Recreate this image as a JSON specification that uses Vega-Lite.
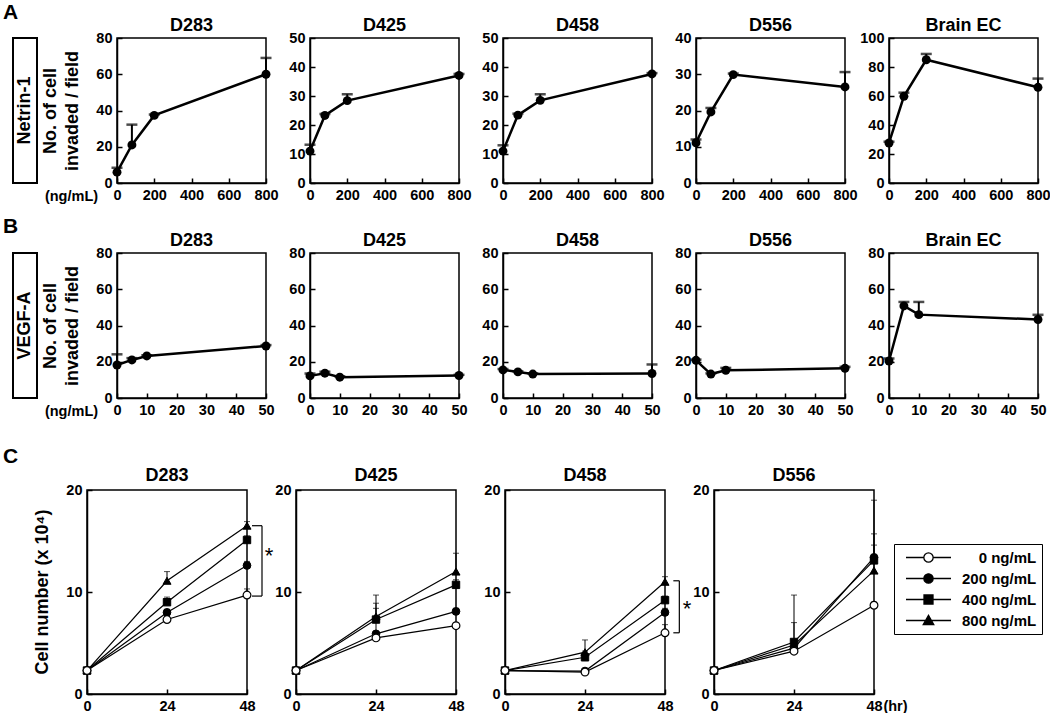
{
"$schema": "https://vega.github.io/schema/vega-lite/v6.json",
"padding": {"left": 3, "top": 2, "right": 5, "bottom": 2},
"datasets": {
"ab": [
{"r":"A","p":"D283","x":0,"y":6,"u":8.4},{"r":"A","p":"D283","x":80,"y":21,"u":32.2},{"r":"A","p":"D283","x":200,"y":37.3,"u":37.8},{"r":"A","p":"D283","x":800,"y":60,"u":69},
{"r":"A","p":"D425","x":0,"y":11,"u":13.2},{"r":"A","p":"D425","x":80,"y":23.3,"u":23.8},{"r":"A","p":"D425","x":200,"y":28.4,"u":30.6},{"r":"A","p":"D425","x":800,"y":37.1,"u":37.6},
{"r":"A","p":"D458","x":0,"y":11,"u":13},{"r":"A","p":"D458","x":80,"y":23.4,"u":23.9},{"r":"A","p":"D458","x":200,"y":28.5,"u":30.6},{"r":"A","p":"D458","x":800,"y":37.6,"u":37.9},
{"r":"A","p":"D556","x":0,"y":11.1,"u":12},{"r":"A","p":"D556","x":80,"y":19.6,"u":20.7},{"r":"A","p":"D556","x":200,"y":29.9,"u":30.2},{"r":"A","p":"D556","x":800,"y":26.5,"u":30.6},
{"r":"A","p":"Brain EC","x":0,"y":27.6,"u":28.5},{"r":"A","p":"Brain EC","x":80,"y":59.8,"u":62.3},{"r":"A","p":"Brain EC","x":200,"y":85,"u":89},{"r":"A","p":"Brain EC","x":800,"y":66,"u":72},
{"r":"B","p":"D283","x":0,"y":18.2,"u":24.1},{"r":"B","p":"D283","x":5,"y":21,"u":22},{"r":"B","p":"D283","x":10,"y":23.2,"u":23.6},{"r":"B","p":"D283","x":50,"y":28.7,"u":29.2},
{"r":"B","p":"D425","x":0,"y":12.2,"u":13.5},{"r":"B","p":"D425","x":5,"y":13.7,"u":14.5},{"r":"B","p":"D425","x":10,"y":11.5,"u":12},{"r":"B","p":"D425","x":50,"y":12.4,"u":12.8},
{"r":"B","p":"D458","x":0,"y":15.5,"u":16},{"r":"B","p":"D458","x":5,"y":14.4,"u":14.8},{"r":"B","p":"D458","x":10,"y":13.2,"u":13.6},{"r":"B","p":"D458","x":50,"y":13.5,"u":18.5},
{"r":"B","p":"D556","x":0,"y":20.8,"u":21.2},{"r":"B","p":"D556","x":5,"y":13.2,"u":13.6},{"r":"B","p":"D556","x":10,"y":15.3,"u":16.6},{"r":"B","p":"D556","x":50,"y":16.4,"u":17.2},
{"r":"B","p":"Brain EC","x":0,"y":20.4,"u":21.8},{"r":"B","p":"Brain EC","x":5,"y":50.8,"u":53},{"r":"B","p":"Brain EC","x":10,"y":46,"u":53},{"r":"B","p":"Brain EC","x":50,"y":43.3,"u":45.9}
],
"c": [
{"p":"D283","dose":"0 ng/mL","t":0,"y":2.3},{"p":"D283","dose":"0 ng/mL","t":24,"y":7.3,"u":7.6},{"p":"D283","dose":"0 ng/mL","t":48,"y":9.7,"u":10.3},
{"p":"D283","dose":"200 ng/mL","t":0,"y":2.3},{"p":"D283","dose":"200 ng/mL","t":24,"y":8.0,"u":8.3},{"p":"D283","dose":"200 ng/mL","t":48,"y":12.6,"u":13.0},
{"p":"D283","dose":"400 ng/mL","t":0,"y":2.3},{"p":"D283","dose":"400 ng/mL","t":24,"y":9.0,"u":9.5},{"p":"D283","dose":"400 ng/mL","t":48,"y":15.1,"u":15.5},
{"p":"D283","dose":"800 ng/mL","t":0,"y":2.3},{"p":"D283","dose":"800 ng/mL","t":24,"y":11.1,"u":12.0},{"p":"D283","dose":"800 ng/mL","t":48,"y":16.5,"u":16.9},
{"p":"D425","dose":"0 ng/mL","t":0,"y":2.3},{"p":"D425","dose":"0 ng/mL","t":24,"y":5.5,"u":5.8},{"p":"D425","dose":"0 ng/mL","t":48,"y":6.7,"u":6.9},
{"p":"D425","dose":"200 ng/mL","t":0,"y":2.3},{"p":"D425","dose":"200 ng/mL","t":24,"y":5.9,"u":8.4},{"p":"D425","dose":"200 ng/mL","t":48,"y":8.1,"u":8.4},
{"p":"D425","dose":"400 ng/mL","t":0,"y":2.3},{"p":"D425","dose":"400 ng/mL","t":24,"y":7.3,"u":8.9},{"p":"D425","dose":"400 ng/mL","t":48,"y":10.7,"u":11.2},
{"p":"D425","dose":"800 ng/mL","t":0,"y":2.3},{"p":"D425","dose":"800 ng/mL","t":24,"y":7.6,"u":9.7},{"p":"D425","dose":"800 ng/mL","t":48,"y":12.0,"u":13.8},
{"p":"D458","dose":"0 ng/mL","t":0,"y":2.3},{"p":"D458","dose":"0 ng/mL","t":24,"y":2.15,"u":2.3},{"p":"D458","dose":"0 ng/mL","t":48,"y":6.0,"u":6.8},
{"p":"D458","dose":"200 ng/mL","t":0,"y":2.3},{"p":"D458","dose":"200 ng/mL","t":24,"y":2.25,"u":2.4},{"p":"D458","dose":"200 ng/mL","t":48,"y":8.0,"u":8.4},
{"p":"D458","dose":"400 ng/mL","t":0,"y":2.3},{"p":"D458","dose":"400 ng/mL","t":24,"y":3.6,"u":4.2},{"p":"D458","dose":"400 ng/mL","t":48,"y":9.2,"u":9.6},
{"p":"D458","dose":"800 ng/mL","t":0,"y":2.3},{"p":"D458","dose":"800 ng/mL","t":24,"y":4.1,"u":5.3},{"p":"D458","dose":"800 ng/mL","t":48,"y":11.0,"u":11.5},
{"p":"D556","dose":"0 ng/mL","t":0,"y":2.3},{"p":"D556","dose":"0 ng/mL","t":24,"y":4.2,"u":4.5},{"p":"D556","dose":"0 ng/mL","t":48,"y":8.7,"u":9.0},
{"p":"D556","dose":"200 ng/mL","t":0,"y":2.3},{"p":"D556","dose":"200 ng/mL","t":24,"y":4.5,"u":7.0},{"p":"D556","dose":"200 ng/mL","t":48,"y":13.4,"u":15.7},
{"p":"D556","dose":"400 ng/mL","t":0,"y":2.3},{"p":"D556","dose":"400 ng/mL","t":24,"y":5.1,"u":9.7},{"p":"D556","dose":"400 ng/mL","t":48,"y":13.1,"u":19.0},
{"p":"D556","dose":"800 ng/mL","t":0,"y":2.3},{"p":"D556","dose":"800 ng/mL","t":24,"y":4.8,"u":5.2},{"p":"D556","dose":"800 ng/mL","t":48,"y":12.1,"u":14.6}
],
"br": [
{"p":"D283","x":52.5,"x2":52.5,"y":9.6,"y2":16.5},{"p":"D283","x":49.5,"x2":52.5,"y":16.5,"y2":16.5},{"p":"D283","x":49.5,"x2":52.5,"y":9.6,"y2":9.6},
{"p":"D458","x":52.3,"x2":52.3,"y":6.0,"y2":11.1},{"p":"D458","x":50.5,"x2":52.3,"y":11.1,"y2":11.1},{"p":"D458","x":50.5,"x2":52.3,"y":6.0,"y2":6.0}
],
"ast": [
{"p":"D283","x":54.6,"y":13.5,"s":"*"},{"p":"D458","x":54.6,"y":8.3,"s":"*"}
]
},
"vconcat": [
{"vconcat": [
{"title": {"text": "A", "anchor": "start", "frame": "group", "fontSize": 21, "dx": -10, "offset": -7},
 "bounds": "flush", "spacing": 80,
 "hconcat": [
  {"width": 24, "height": 145, "data": {"values": [{"t": "Netrin-1"}]}, "mark": {"type": "text", "angle": 270, "fontSize": 18, "fontWeight": "bold"}, "encoding": {"text": {"field": "t"}}, "view": {"stroke": "black", "strokeWidth": 2}},
  {"bounds": "flush", "spacing": 44, "hconcat": [
   {"width":149,"height":145,"title":{"text":"D283","offset":-5},"data":{"name":"ab"},"transform":[{"filter":"datum.r=='A' && datum.p=='D283'"}],
    "encoding":{"x":{"field":"x","type":"quantitative","scale":{"domain":[0,800],"nice":false},"axis":{"values":[0,200,400,600,800],"title":"(ng/mL)","titleX":-46,"titleY":17,"titleAlign":"center","titleBaseline":"alphabetic","titleFontSize":14.5}},
     "y":{"field":"y","type":"quantitative","scale":{"domain":[0,80],"nice":false},"axis":{"values":[0,20,40,60,80],"title":["No. of cell","invaded / field"],"titlePadding":14,"titleLineHeight":22}}},
    "layer":[{"mark":{"type":"line","color":"black","strokeWidth":2.5}},{"mark":{"type":"rule","color":"black","strokeWidth":2},"encoding":{"y2":{"field":"u"}}},{"mark":{"type":"circle","color":"black","opacity":1,"size":80}},{"mark":{"type":"tick","color":"black","orient":"horizontal","thickness":2.5,"size":11},"encoding":{"y":{"field":"u","type":"quantitative"}}}]},
   {"width":149,"height":145,"title":{"text":"D425","offset":-5},"data":{"name":"ab"},"transform":[{"filter":"datum.r=='A' && datum.p=='D425'"}],
    "encoding":{"x":{"field":"x","type":"quantitative","scale":{"domain":[0,800],"nice":false},"axis":{"values":[0,200,400,600,800],"title":null}},
     "y":{"field":"y","type":"quantitative","scale":{"domain":[0,50],"nice":false},"axis":{"values":[0,10,20,30,40,50],"title":null}}},
    "layer":[{"mark":{"type":"line","color":"black","strokeWidth":2.5}},{"mark":{"type":"rule","color":"black","strokeWidth":2},"encoding":{"y2":{"field":"u"}}},{"mark":{"type":"circle","color":"black","opacity":1,"size":80}},{"mark":{"type":"tick","color":"black","orient":"horizontal","thickness":2.5,"size":11},"encoding":{"y":{"field":"u","type":"quantitative"}}}]},
   {"width":149,"height":145,"title":{"text":"D458","offset":-5},"data":{"name":"ab"},"transform":[{"filter":"datum.r=='A' && datum.p=='D458'"}],
    "encoding":{"x":{"field":"x","type":"quantitative","scale":{"domain":[0,800],"nice":false},"axis":{"values":[0,200,400,600,800],"title":null}},
     "y":{"field":"y","type":"quantitative","scale":{"domain":[0,50],"nice":false},"axis":{"values":[0,10,20,30,40,50],"title":null}}},
    "layer":[{"mark":{"type":"line","color":"black","strokeWidth":2.5}},{"mark":{"type":"rule","color":"black","strokeWidth":2},"encoding":{"y2":{"field":"u"}}},{"mark":{"type":"circle","color":"black","opacity":1,"size":80}},{"mark":{"type":"tick","color":"black","orient":"horizontal","thickness":2.5,"size":11},"encoding":{"y":{"field":"u","type":"quantitative"}}}]},
   {"width":149,"height":145,"title":{"text":"D556","offset":-5},"data":{"name":"ab"},"transform":[{"filter":"datum.r=='A' && datum.p=='D556'"}],
    "encoding":{"x":{"field":"x","type":"quantitative","scale":{"domain":[0,800],"nice":false},"axis":{"values":[0,200,400,600,800],"title":null}},
     "y":{"field":"y","type":"quantitative","scale":{"domain":[0,40],"nice":false},"axis":{"values":[0,10,20,30,40],"title":null}}},
    "layer":[{"mark":{"type":"line","color":"black","strokeWidth":2.5}},{"mark":{"type":"rule","color":"black","strokeWidth":2},"encoding":{"y2":{"field":"u"}}},{"mark":{"type":"circle","color":"black","opacity":1,"size":80}},{"mark":{"type":"tick","color":"black","orient":"horizontal","thickness":2.5,"size":11},"encoding":{"y":{"field":"u","type":"quantitative"}}}]},
   {"width":149,"height":145,"title":{"text":"Brain EC","offset":-5},"data":{"name":"ab"},"transform":[{"filter":"datum.r=='A' && datum.p=='Brain EC'"}],
    "encoding":{"x":{"field":"x","type":"quantitative","scale":{"domain":[0,800],"nice":false},"axis":{"values":[0,200,400,600,800],"title":null}},
     "y":{"field":"y","type":"quantitative","scale":{"domain":[0,100],"nice":false},"axis":{"values":[0,20,40,60,80,100],"title":null}}},
    "layer":[{"mark":{"type":"line","color":"black","strokeWidth":2.5}},{"mark":{"type":"rule","color":"black","strokeWidth":2},"encoding":{"y2":{"field":"u"}}},{"mark":{"type":"circle","color":"black","opacity":1,"size":80}},{"mark":{"type":"tick","color":"black","orient":"horizontal","thickness":2.5,"size":11},"encoding":{"y":{"field":"u","type":"quantitative"}}}]}
  ]}
 ]},
{"title": {"text": "B", "anchor": "start", "frame": "group", "fontSize": 21, "dx": -10, "offset": -6},
 "bounds": "flush", "spacing": 80,
 "hconcat": [
  {"width": 24, "height": 145, "data": {"values": [{"t": "VEGF-A"}]}, "mark": {"type": "text", "angle": 270, "fontSize": 18, "fontWeight": "bold"}, "encoding": {"text": {"field": "t"}}, "view": {"stroke": "black", "strokeWidth": 2}},
  {"bounds": "flush", "spacing": 44, "hconcat": [
   {"width":149,"height":145,"title":{"text":"D283","offset":-5},"data":{"name":"ab"},"transform":[{"filter":"datum.r=='B' && datum.p=='D283'"}],
    "encoding":{"x":{"field":"x","type":"quantitative","scale":{"domain":[0,50],"nice":false},"axis":{"values":[0,10,20,30,40,50],"title":"(ng/mL)","titleX":-46,"titleY":17,"titleAlign":"center","titleBaseline":"alphabetic","titleFontSize":14.5}},
     "y":{"field":"y","type":"quantitative","scale":{"domain":[0,80],"nice":false},"axis":{"values":[0,20,40,60,80],"title":["No. of cell","invaded / field"],"titlePadding":14,"titleLineHeight":22}}},
    "layer":[{"mark":{"type":"line","color":"black","strokeWidth":2.5}},{"mark":{"type":"rule","color":"black","strokeWidth":2},"encoding":{"y2":{"field":"u"}}},{"mark":{"type":"circle","color":"black","opacity":1,"size":80}},{"mark":{"type":"tick","color":"black","orient":"horizontal","thickness":2.5,"size":11},"encoding":{"y":{"field":"u","type":"quantitative"}}}]},
   {"width":149,"height":145,"title":{"text":"D425","offset":-5},"data":{"name":"ab"},"transform":[{"filter":"datum.r=='B' && datum.p=='D425'"}],
    "encoding":{"x":{"field":"x","type":"quantitative","scale":{"domain":[0,50],"nice":false},"axis":{"values":[0,10,20,30,40,50],"title":null}},
     "y":{"field":"y","type":"quantitative","scale":{"domain":[0,80],"nice":false},"axis":{"values":[0,20,40,60,80],"title":null}}},
    "layer":[{"mark":{"type":"line","color":"black","strokeWidth":2.5}},{"mark":{"type":"rule","color":"black","strokeWidth":2},"encoding":{"y2":{"field":"u"}}},{"mark":{"type":"circle","color":"black","opacity":1,"size":80}},{"mark":{"type":"tick","color":"black","orient":"horizontal","thickness":2.5,"size":11},"encoding":{"y":{"field":"u","type":"quantitative"}}}]},
   {"width":149,"height":145,"title":{"text":"D458","offset":-5},"data":{"name":"ab"},"transform":[{"filter":"datum.r=='B' && datum.p=='D458'"}],
    "encoding":{"x":{"field":"x","type":"quantitative","scale":{"domain":[0,50],"nice":false},"axis":{"values":[0,10,20,30,40,50],"title":null}},
     "y":{"field":"y","type":"quantitative","scale":{"domain":[0,80],"nice":false},"axis":{"values":[0,20,40,60,80],"title":null}}},
    "layer":[{"mark":{"type":"line","color":"black","strokeWidth":2.5}},{"mark":{"type":"rule","color":"black","strokeWidth":2},"encoding":{"y2":{"field":"u"}}},{"mark":{"type":"circle","color":"black","opacity":1,"size":80}},{"mark":{"type":"tick","color":"black","orient":"horizontal","thickness":2.5,"size":11},"encoding":{"y":{"field":"u","type":"quantitative"}}}]},
   {"width":149,"height":145,"title":{"text":"D556","offset":-5},"data":{"name":"ab"},"transform":[{"filter":"datum.r=='B' && datum.p=='D556'"}],
    "encoding":{"x":{"field":"x","type":"quantitative","scale":{"domain":[0,50],"nice":false},"axis":{"values":[0,10,20,30,40,50],"title":null}},
     "y":{"field":"y","type":"quantitative","scale":{"domain":[0,80],"nice":false},"axis":{"values":[0,20,40,60,80],"title":null}}},
    "layer":[{"mark":{"type":"line","color":"black","strokeWidth":2.5}},{"mark":{"type":"rule","color":"black","strokeWidth":2},"encoding":{"y2":{"field":"u"}}},{"mark":{"type":"circle","color":"black","opacity":1,"size":80}},{"mark":{"type":"tick","color":"black","orient":"horizontal","thickness":2.5,"size":11},"encoding":{"y":{"field":"u","type":"quantitative"}}}]},
   {"width":149,"height":145,"title":{"text":"Brain EC","offset":-5},"data":{"name":"ab"},"transform":[{"filter":"datum.r=='B' && datum.p=='Brain EC'"}],
    "encoding":{"x":{"field":"x","type":"quantitative","scale":{"domain":[0,50],"nice":false},"axis":{"values":[0,10,20,30,40,50],"title":null}},
     "y":{"field":"y","type":"quantitative","scale":{"domain":[0,80],"nice":false},"axis":{"values":[0,20,40,60,80],"title":null}}},
    "layer":[{"mark":{"type":"line","color":"black","strokeWidth":2.5}},{"mark":{"type":"rule","color":"black","strokeWidth":2},"encoding":{"y2":{"field":"u"}}},{"mark":{"type":"circle","color":"black","opacity":1,"size":80}},{"mark":{"type":"tick","color":"black","orient":"horizontal","thickness":2.5,"size":11},"encoding":{"y":{"field":"u","type":"quantitative"}}}]}
  ]}
 ]}
], "spacing": 12},
{"title": {"text": "C", "anchor": "start", "frame": "group", "fontSize": 21, "dx": -10, "offset": -1},
 "bounds": "flush", "spacing": 14,
 "hconcat": [
  {"width": 60, "height": 204, "data": {"values": [{"t": "Cell number (x 10⁴)"}]}, "mark": {"type": "text", "angle": 270, "fontSize": 18, "fontWeight": "bold"}, "encoding": {"text": {"field": "t"}}, "view": {"stroke": null}},
  {"bounds": "flush", "spacing": 49, "hconcat": [
   {"width":160,"height":204,"title":{"text":"D283","offset":-3},
    "encoding":{"x":{"field":"t","type":"quantitative","scale":{"domain":[0,48],"nice":false},"axis":{"values":[0,24,48],"title":null}},
     "y":{"field":"y","type":"quantitative","scale":{"domain":[0,20],"nice":false},"axis":{"values":[0,10,20],"title":null}}},
    "layer":[
     {"data":{"name":"c"},"transform":[{"filter":"datum.p=='D283'"}],"mark":{"type":"line","color":"black","strokeWidth":1.2},"encoding":{"detail":{"field":"dose"}}},
     {"data":{"name":"c"},"transform":[{"filter":"datum.p=='D283' && isValid(datum.u)"}],"mark":{"type":"rule","color":"black","strokeWidth":1},"encoding":{"y2":{"field":"u"}}},
     {"data":{"name":"c"},"transform":[{"filter":"datum.p=='D283' && isValid(datum.u)"}],"mark":{"type":"tick","color":"black","orient":"horizontal","thickness":1,"size":6},"encoding":{"y":{"field":"u","type":"quantitative"}}},
     {"data":{"name":"c"},"transform":[{"filter":"datum.p=='D283' && datum.dose=='800 ng/mL'"}],"mark":{"type":"point","shape":"triangle-up","filled":true,"fill":"black","stroke":"black","strokeWidth":1,"size":65,"opacity":1}},
     {"data":{"name":"c"},"transform":[{"filter":"datum.p=='D283' && datum.dose=='400 ng/mL'"}],"mark":{"type":"point","shape":"square","filled":true,"fill":"black","stroke":"black","strokeWidth":1,"size":55,"opacity":1}},
     {"data":{"name":"c"},"transform":[{"filter":"datum.p=='D283' && datum.dose=='200 ng/mL'"}],"mark":{"type":"point","shape":"circle","filled":true,"fill":"black","stroke":"black","strokeWidth":1,"size":60,"opacity":1}},
     {"data":{"name":"c"},"transform":[{"filter":"datum.p=='D283' && datum.dose=='0 ng/mL'"}],"mark":{"type":"point","shape":"circle","filled":true,"fill":"white","stroke":"black","strokeWidth":1.2,"size":60,"opacity":1}},
     {"data":{"name":"br"},"transform":[{"filter":"datum.p=='D283'"}],"mark":{"type":"rule","color":"black","strokeWidth":1.2},"encoding":{"x":{"field":"x","type":"quantitative"},"x2":{"field":"x2"},"y":{"field":"y","type":"quantitative"},"y2":{"field":"y2"}}},
     {"data":{"name":"ast"},"transform":[{"filter":"datum.p=='D283'"}],"mark":{"type":"text","fontSize":22,"baseline":"middle"},"encoding":{"x":{"field":"x","type":"quantitative"},"text":{"field":"s"}}}
    ]},
   {"width":160,"height":204,"title":{"text":"D425","offset":-3},
    "encoding":{"x":{"field":"t","type":"quantitative","scale":{"domain":[0,48],"nice":false},"axis":{"values":[0,24,48],"title":null}},
     "y":{"field":"y","type":"quantitative","scale":{"domain":[0,20],"nice":false},"axis":{"values":[0,10,20],"title":null}}},
    "layer":[
     {"data":{"name":"c"},"transform":[{"filter":"datum.p=='D425'"}],"mark":{"type":"line","color":"black","strokeWidth":1.2},"encoding":{"detail":{"field":"dose"}}},
     {"data":{"name":"c"},"transform":[{"filter":"datum.p=='D425' && isValid(datum.u)"}],"mark":{"type":"rule","color":"black","strokeWidth":1},"encoding":{"y2":{"field":"u"}}},
     {"data":{"name":"c"},"transform":[{"filter":"datum.p=='D425' && isValid(datum.u)"}],"mark":{"type":"tick","color":"black","orient":"horizontal","thickness":1,"size":6},"encoding":{"y":{"field":"u","type":"quantitative"}}},
     {"data":{"name":"c"},"transform":[{"filter":"datum.p=='D425' && datum.dose=='800 ng/mL'"}],"mark":{"type":"point","shape":"triangle-up","filled":true,"fill":"black","stroke":"black","strokeWidth":1,"size":65,"opacity":1}},
     {"data":{"name":"c"},"transform":[{"filter":"datum.p=='D425' && datum.dose=='400 ng/mL'"}],"mark":{"type":"point","shape":"square","filled":true,"fill":"black","stroke":"black","strokeWidth":1,"size":55,"opacity":1}},
     {"data":{"name":"c"},"transform":[{"filter":"datum.p=='D425' && datum.dose=='200 ng/mL'"}],"mark":{"type":"point","shape":"circle","filled":true,"fill":"black","stroke":"black","strokeWidth":1,"size":60,"opacity":1}},
     {"data":{"name":"c"},"transform":[{"filter":"datum.p=='D425' && datum.dose=='0 ng/mL'"}],"mark":{"type":"point","shape":"circle","filled":true,"fill":"white","stroke":"black","strokeWidth":1.2,"size":60,"opacity":1}}
    ]},
   {"width":160,"height":204,"title":{"text":"D458","offset":-3},
    "encoding":{"x":{"field":"t","type":"quantitative","scale":{"domain":[0,48],"nice":false},"axis":{"values":[0,24,48],"title":null}},
     "y":{"field":"y","type":"quantitative","scale":{"domain":[0,20],"nice":false},"axis":{"values":[0,10,20],"title":null}}},
    "layer":[
     {"data":{"name":"c"},"transform":[{"filter":"datum.p=='D458'"}],"mark":{"type":"line","color":"black","strokeWidth":1.2},"encoding":{"detail":{"field":"dose"}}},
     {"data":{"name":"c"},"transform":[{"filter":"datum.p=='D458' && isValid(datum.u)"}],"mark":{"type":"rule","color":"black","strokeWidth":1},"encoding":{"y2":{"field":"u"}}},
     {"data":{"name":"c"},"transform":[{"filter":"datum.p=='D458' && isValid(datum.u)"}],"mark":{"type":"tick","color":"black","orient":"horizontal","thickness":1,"size":6},"encoding":{"y":{"field":"u","type":"quantitative"}}},
     {"data":{"name":"c"},"transform":[{"filter":"datum.p=='D458' && datum.dose=='800 ng/mL'"}],"mark":{"type":"point","shape":"triangle-up","filled":true,"fill":"black","stroke":"black","strokeWidth":1,"size":65,"opacity":1}},
     {"data":{"name":"c"},"transform":[{"filter":"datum.p=='D458' && datum.dose=='400 ng/mL'"}],"mark":{"type":"point","shape":"square","filled":true,"fill":"black","stroke":"black","strokeWidth":1,"size":55,"opacity":1}},
     {"data":{"name":"c"},"transform":[{"filter":"datum.p=='D458' && datum.dose=='200 ng/mL'"}],"mark":{"type":"point","shape":"circle","filled":true,"fill":"black","stroke":"black","strokeWidth":1,"size":60,"opacity":1}},
     {"data":{"name":"c"},"transform":[{"filter":"datum.p=='D458' && datum.dose=='0 ng/mL'"}],"mark":{"type":"point","shape":"circle","filled":true,"fill":"white","stroke":"black","strokeWidth":1.2,"size":60,"opacity":1}},
     {"data":{"name":"br"},"transform":[{"filter":"datum.p=='D458'"}],"mark":{"type":"rule","color":"black","strokeWidth":1.2},"encoding":{"x":{"field":"x","type":"quantitative"},"x2":{"field":"x2"},"y":{"field":"y","type":"quantitative"},"y2":{"field":"y2"}}},
     {"data":{"name":"ast"},"transform":[{"filter":"datum.p=='D458'"}],"mark":{"type":"text","fontSize":22,"baseline":"middle"},"encoding":{"x":{"field":"x","type":"quantitative"},"text":{"field":"s"}}}
    ]},
   {"width":160,"height":204,"title":{"text":"D556","offset":-3},
    "encoding":{"x":{"field":"t","type":"quantitative","scale":{"domain":[0,48],"nice":false},"axis":{"values":[0,24,48],"title":"(hr)","titleX":181,"titleY":16,"titleAlign":"center","titleBaseline":"alphabetic","titleFontSize":14.5}},
     "y":{"field":"y","type":"quantitative","scale":{"domain":[0,20],"nice":false},"axis":{"values":[0,10,20],"title":null}}},
    "layer":[
     {"data":{"name":"c"},"transform":[{"filter":"datum.p=='D556'"}],"mark":{"type":"line","color":"black","strokeWidth":1.2},"encoding":{"detail":{"field":"dose"}}},
     {"data":{"name":"c"},"transform":[{"filter":"datum.p=='D556' && isValid(datum.u)"}],"mark":{"type":"rule","color":"black","strokeWidth":1},"encoding":{"y2":{"field":"u"}}},
     {"data":{"name":"c"},"transform":[{"filter":"datum.p=='D556' && isValid(datum.u)"}],"mark":{"type":"tick","color":"black","orient":"horizontal","thickness":1,"size":6},"encoding":{"y":{"field":"u","type":"quantitative"}}},
     {"data":{"name":"c"},"transform":[{"filter":"datum.p=='D556' && datum.dose=='800 ng/mL'"}],"mark":{"type":"point","shape":"triangle-up","filled":true,"fill":"black","stroke":"black","strokeWidth":1,"size":65,"opacity":1}},
     {"data":{"name":"c"},"transform":[{"filter":"datum.p=='D556' && datum.dose=='400 ng/mL'"}],"mark":{"type":"point","shape":"square","filled":true,"fill":"black","stroke":"black","strokeWidth":1,"size":55,"opacity":1}},
     {"data":{"name":"c"},"transform":[{"filter":"datum.p=='D556' && datum.dose=='200 ng/mL'"}],"mark":{"type":"point","shape":"circle","filled":true,"fill":"black","stroke":"black","strokeWidth":1,"size":60,"opacity":1}},
     {"data":{"name":"c"},"transform":[{"filter":"datum.p=='D556' && datum.dose=='0 ng/mL'"}],"mark":{"type":"point","shape":"circle","filled":true,"fill":"white","stroke":"black","strokeWidth":1.2,"size":60,"opacity":1}},
     {"data":{"name":"c"},"transform":[{"filter":"datum.p=='legend only'"}],"mark":{"type":"point","filled":true,"stroke":"black","strokeWidth":1.3,"opacity":1},
      "encoding":{
       "shape":{"field":"dose","type":"nominal","scale":{"domain":["0 ng/mL","200 ng/mL","400 ng/mL","800 ng/mL"],"range":["M-3,0H-0.62M0.62,0H3M-0.62,0A0.62,0.62,0,1,0,0.62,0A0.62,0.62,0,1,0,-0.62,0Z","M-3,0H3M-0.62,0A0.62,0.62,0,1,0,0.62,0A0.62,0.62,0,1,0,-0.62,0Z","M-3,0H3M-0.6,-0.6H0.6V0.6H-0.6Z","M-3,0H3M0,-0.68L0.7,0.55H-0.7Z"]},
        "legend":{"title":null,"orient":"none","legendX":881,"legendY":506,"strokeColor":"black","padding":5,"symbolSize":225,"symbolStrokeWidth":1.3,"symbolOffset":21,"labelOffset":25,"rowPadding":4,"labelFontSize":15,"labelFont":"Liberation Sans","labelFontWeight":"bold","labelColor":"black","labelExpr":"datum.label == '0 ng/mL' ? '\u200b\u00a0\u00a0\u00a0\u00a00 ng/mL' : datum.label"}},
       "fill":{"field":"dose","type":"nominal","scale":{"domain":["0 ng/mL","200 ng/mL","400 ng/mL","800 ng/mL"],"range":["white","black","black","black"]},
        "legend":{"title":null,"orient":"none","legendX":881,"legendY":506,"strokeColor":"black","padding":5,"symbolSize":225,"symbolStrokeWidth":1.3,"symbolOffset":21,"labelOffset":25,"rowPadding":4,"labelFontSize":15,"labelFont":"Liberation Sans","labelFontWeight":"bold","labelColor":"black","labelExpr":"datum.label == '0 ng/mL' ? '\u200b\u00a0\u00a0\u00a0\u00a00 ng/mL' : datum.label"}}}}
    ]}
  ]}
 ]}
],
"spacing": 27,
"config": {
 "font": "Liberation Sans",
 "view": {"stroke": "black", "strokeWidth": 1.5},
 "axis": {"grid": false, "domainColor": "black", "domainWidth": 1.5, "tickColor": "black", "tickWidth": 1.5, "tickSize": -5, "labelFont": "Liberation Sans", "labelFontSize": 14.5, "labelFontWeight": "bold", "labelColor": "black", "labelPadding": 10, "labelFlush": false, "labelOverlap": false, "titleFont": "Liberation Sans", "titleFontWeight": "bold", "titleColor": "black", "titleFontSize": 18},
 "title": {"font": "Liberation Sans", "fontSize": 18, "fontWeight": "bold", "color": "black", "offset": 5},
 "text": {"font": "Liberation Sans", "color": "black"}
}
}
